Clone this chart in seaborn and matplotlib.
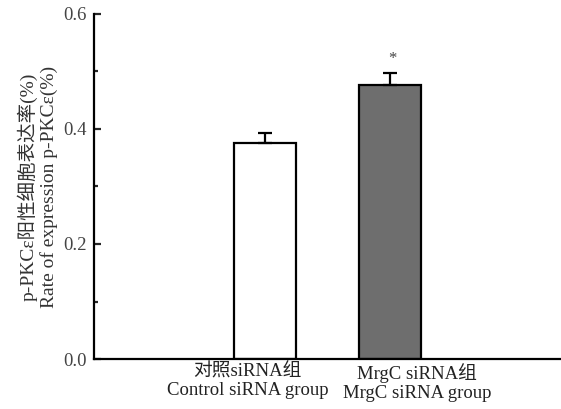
import matplotlib
matplotlib.use("Agg")
import matplotlib.pyplot as plt
import numpy as np
import pandas as pd
import seaborn as sns
from matplotlib.ticker import MultipleLocator, FormatStrFormatter

# data
groups = ["对照siRNA组\nControl siRNA group", "MrgC siRNA组\nMrgC siRNA group"]
rates = [0.376, 0.476]
errs = [0.017, 0.022]
bar_colors = ["#ffffff", "#6e6e6e"]

df = pd.DataFrame({"group": groups, "rate": rates})

sns.set_style("ticks")
plt.rcParams["font.family"] = ["Liberation Serif", "Noto Sans CJK SC"]

fig = plt.figure(figsize=(5.61, 4.09), dpi=100)
ax = fig.add_axes([94/561, 50/409, 467/561, 345/409])

sns.barplot(data=df, x="group", y="rate", hue="group", palette=bar_colors,
            errorbar=None, width=0.5, edgecolor="black", linewidth=1.6,
            legend=False, ax=ax)

# upper error bars only
ax.errorbar(np.arange(len(groups)), rates, yerr=[[0]*len(errs), errs],
            fmt="none", ecolor="black", elinewidth=1.6, capsize=5, capthick=1.6)

# significance mark
ax.text(1.02, rates[1] + errs[1] + 0.01, "*", ha="center", va="bottom",
        fontsize=12, color="#444444")

ax.set_xlim(-1.37, 2.37)
ax.set_ylim(0, 0.6)
ax.yaxis.set_major_locator(MultipleLocator(0.2))
ax.yaxis.set_minor_locator(MultipleLocator(0.1))
ax.yaxis.set_major_formatter(FormatStrFormatter("%.1f"))
ax.tick_params(axis="y", which="major", direction="in", length=5, width=1.6,
               labelsize=13.5, labelcolor="#444444", pad=5)
ax.tick_params(axis="y", which="minor", direction="in", length=3, width=1.6)

# category labels sit a little off the bar centres in the original
ax.set_xticks([])
label_shift = [-0.14, 1.22]
for xpos, lab in zip(label_shift, groups):
    ax.text(xpos, -0.012, lab, transform=ax.get_xaxis_transform(),
            ha="center", va="top", fontsize=13.5, color="#222222",
            linespacing=1.15)

for s in ["top", "right"]:
    ax.spines[s].set_visible(False)
for s in ["left", "bottom"]:
    ax.spines[s].set_linewidth(1.6)
    ax.spines[s].set_color("black")

ax.set_xlabel("")
ax.set_ylabel("p-PKCε阳性细胞表达率(%)\nRate of expression p-PKCε(%)",
              fontsize=14, color="#333333", labelpad=4, linespacing=1.2)

fig.savefig("out.png", dpi=100)
